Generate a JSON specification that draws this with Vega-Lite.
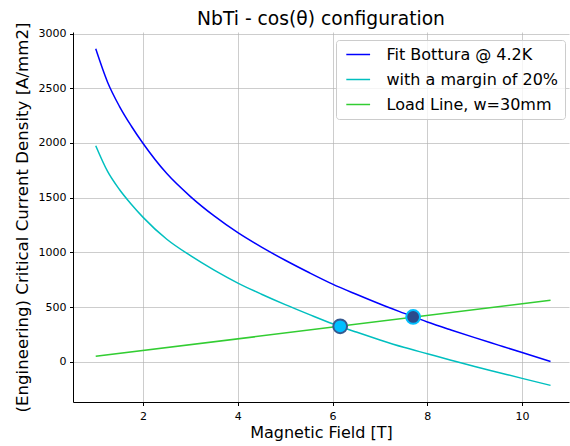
{
  "$schema": "https://vega.github.io/schema/vega-lite/v6.json",
  "width": 496,
  "height": 370,
  "autosize": {"type": "none"},
  "padding": {"left": 73, "top": 32, "right": 1, "bottom": 44},
  "background": "white",
  "title": {
    "text": "NbTi - cos(θ) configuration",
    "font": "DejaVu Sans",
    "fontSize": 18.7,
    "fontWeight": "normal",
    "color": "black",
    "anchor": "middle",
    "frame": "group",
    "baseline": "alphabetic",
    "offset": 6,
    "dy": 28
  },
  "datasets": {
    "curves": [
      {"B": 1.0, "J": 2860, "series": "Fit Bottura @ 4.2K"},
      {"B": 1.25, "J": 2555, "series": "Fit Bottura @ 4.2K"},
      {"B": 1.5, "J": 2335, "series": "Fit Bottura @ 4.2K"},
      {"B": 1.75, "J": 2155, "series": "Fit Bottura @ 4.2K"},
      {"B": 2.0, "J": 1995, "series": "Fit Bottura @ 4.2K"},
      {"B": 2.5, "J": 1720, "series": "Fit Bottura @ 4.2K"},
      {"B": 3.0, "J": 1510, "series": "Fit Bottura @ 4.2K"},
      {"B": 3.5, "J": 1333, "series": "Fit Bottura @ 4.2K"},
      {"B": 4.0, "J": 1180, "series": "Fit Bottura @ 4.2K"},
      {"B": 4.5, "J": 1048, "series": "Fit Bottura @ 4.2K"},
      {"B": 5.0, "J": 928, "series": "Fit Bottura @ 4.2K"},
      {"B": 5.5, "J": 816, "series": "Fit Bottura @ 4.2K"},
      {"B": 6.0, "J": 710, "series": "Fit Bottura @ 4.2K"},
      {"B": 6.5, "J": 617, "series": "Fit Bottura @ 4.2K"},
      {"B": 7.0, "J": 528, "series": "Fit Bottura @ 4.2K"},
      {"B": 7.5, "J": 445, "series": "Fit Bottura @ 4.2K"},
      {"B": 8.0, "J": 364, "series": "Fit Bottura @ 4.2K"},
      {"B": 8.5, "J": 291, "series": "Fit Bottura @ 4.2K"},
      {"B": 9.0, "J": 221, "series": "Fit Bottura @ 4.2K"},
      {"B": 9.5, "J": 153, "series": "Fit Bottura @ 4.2K"},
      {"B": 10.0, "J": 85, "series": "Fit Bottura @ 4.2K"},
      {"B": 10.6, "J": 3, "series": "Fit Bottura @ 4.2K"},
      {"B": 1.0, "J": 1975, "series": "with a margin of 20%"},
      {"B": 1.25, "J": 1740, "series": "with a margin of 20%"},
      {"B": 1.5, "J": 1575, "series": "with a margin of 20%"},
      {"B": 1.75, "J": 1440, "series": "with a margin of 20%"},
      {"B": 2.0, "J": 1320, "series": "with a margin of 20%"},
      {"B": 2.5, "J": 1120, "series": "with a margin of 20%"},
      {"B": 3.0, "J": 970, "series": "with a margin of 20%"},
      {"B": 3.5, "J": 838, "series": "with a margin of 20%"},
      {"B": 4.0, "J": 720, "series": "with a margin of 20%"},
      {"B": 4.5, "J": 618, "series": "with a margin of 20%"},
      {"B": 5.0, "J": 523, "series": "with a margin of 20%"},
      {"B": 5.5, "J": 434, "series": "with a margin of 20%"},
      {"B": 6.0, "J": 348, "series": "with a margin of 20%"},
      {"B": 6.5, "J": 272, "series": "with a margin of 20%"},
      {"B": 7.0, "J": 200, "series": "with a margin of 20%"},
      {"B": 7.5, "J": 133, "series": "with a margin of 20%"},
      {"B": 8.0, "J": 74, "series": "with a margin of 20%"},
      {"B": 8.5, "J": 15, "series": "with a margin of 20%"},
      {"B": 9.0, "J": -43, "series": "with a margin of 20%"},
      {"B": 9.5, "J": -97, "series": "with a margin of 20%"},
      {"B": 10.0, "J": -151, "series": "with a margin of 20%"},
      {"B": 10.6, "J": -215, "series": "with a margin of 20%"},
      {"B": 1.0, "J": 50, "series": "Load Line, w=30mm"},
      {"B": 10.6, "J": 562, "series": "Load Line, w=30mm"}
    ],
    "crossings": [
      {"B": 6.16, "J": 325, "curve": "margin"},
      {"B": 7.7, "J": 410, "curve": "fit"}
    ]
  },
  "config": {
    "font": "DejaVu Sans",
    "view": {"stroke": null},
    "axis": {
      "domainColor": "black",
      "domainWidth": 1,
      "tickColor": "black",
      "tickSize": 3.5,
      "tickWidth": 1,
      "labelFont": "DejaVu Sans",
      "labelFontSize": 11,
      "labelColor": "black",
      "titleFont": "DejaVu Sans",
      "titleFontSize": 16,
      "titleFontWeight": "normal",
      "titleColor": "black",
      "titleLimit": 1000,
      "gridColor": "#b0b0b0",
      "gridWidth": 0.8,
      "gridOpacity": 0.8
    }
  },
  "layer": [
    {
      "data": {"name": "curves"},
      "mark": {"type": "line", "strokeWidth": 1.5, "interpolate": "monotone"},
      "encoding": {
        "x": {
          "field": "B",
          "type": "quantitative",
          "scale": {"domain": [0.52, 10.99], "nice": false, "zero": false},
          "axis": {"values": [2, 4, 6, 8, 10], "format": "d", "title": "Magnetic Field [T]", "labelPadding": 4.5, "titlePadding": 3}
        },
        "y": {
          "field": "J",
          "type": "quantitative",
          "scale": {"domain": [-367, 3014], "nice": false, "zero": false},
          "axis": {"values": [0, 500, 1000, 1500, 2000, 2500, 3000], "format": "d", "title": "(Engineering) Critical Current Density [A/mm2]", "titleFontSize": 16.6, "labelPadding": 3.5, "titlePadding": 8}
        },
        "color": {
          "field": "series",
          "type": "nominal",
          "sort": ["Fit Bottura @ 4.2K", "with a margin of 20%", "Load Line, w=30mm"],
          "scale": {
            "domain": ["Fit Bottura @ 4.2K", "with a margin of 20%", "Load Line, w=30mm"],
            "range": ["#0000ff", "#00bfbf", "#32cd32"]
          },
          "legend": {
            "orient": "none",
            "legendX": 263,
            "legendY": 8,
            "title": null,
            "labelFont": "DejaVu Sans",
            "labelFontSize": 16,
            "labelColor": "black",
            "labelLimit": 400,
            "symbolType": "M-0.6,0H2.8",
            "symbolSize": 196,
            "symbolStrokeWidth": 1.5,
            "labelOffset": 28,
            "rowPadding": 9,
            "padding": 6.5,
            "fillColor": "rgba(255,255,255,0.8)",
            "strokeColor": "#cccccc",
            "cornerRadius": 3
          }
        }
      }
    },
    {
      "mark": {"type": "rule", "color": "black", "strokeWidth": 1},
      "encoding": {"y": {"datum": 3014, "type": "quantitative"}}
    },
    {
      "data": {"name": "crossings"},
      "transform": [{"filter": "datum.curve === 'margin'"}],
      "mark": {"type": "point", "filled": true, "size": 190, "fill": "#00bfff", "stroke": "#36598f", "strokeWidth": 2, "opacity": 1},
      "encoding": {
        "x": {"field": "B", "type": "quantitative"},
        "y": {"field": "J", "type": "quantitative"}
      }
    },
    {
      "data": {"name": "crossings"},
      "transform": [{"filter": "datum.curve === 'fit'"}],
      "mark": {"type": "point", "filled": true, "size": 190, "fill": "#2b4c8c", "stroke": "#00bfff", "strokeWidth": 2, "opacity": 1},
      "encoding": {
        "x": {"field": "B", "type": "quantitative"},
        "y": {"field": "J", "type": "quantitative"}
      }
    }
  ]
}
